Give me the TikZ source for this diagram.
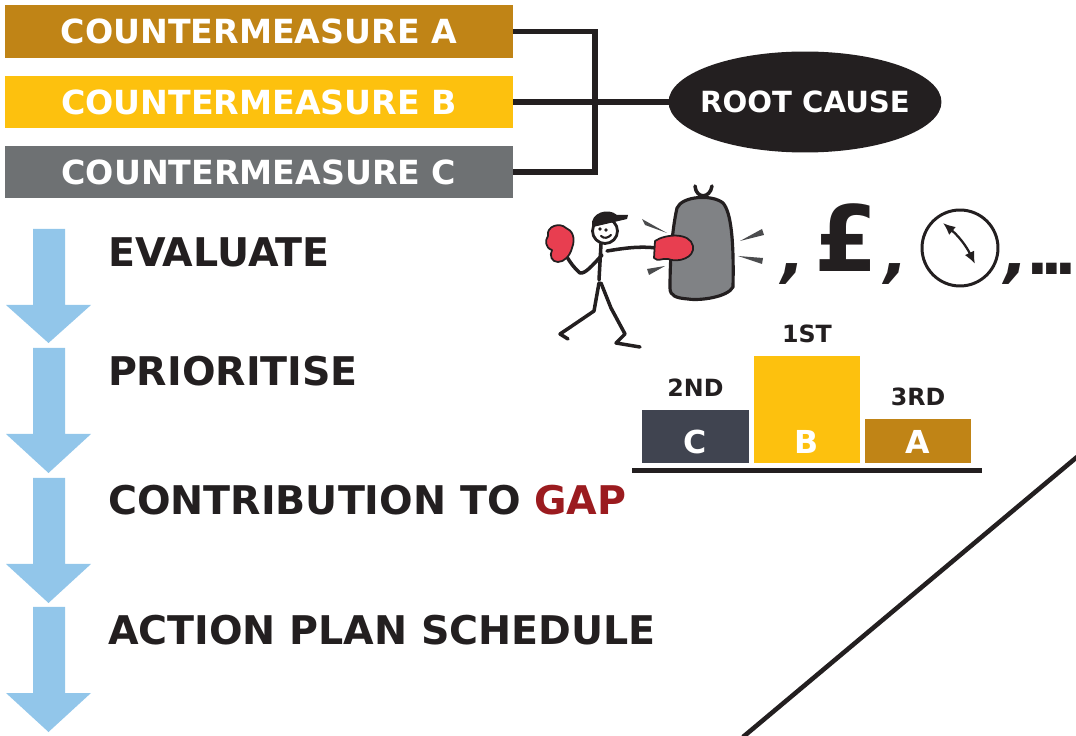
\documentclass[tikz,border=0pt]{standalone}
\usepackage{fontspec}
\setmainfont{DejaVu Sans}
\usetikzlibrary{shapes.geometric,arrows.meta}
\definecolor{cmA}{RGB}{192,132,22}
\definecolor{cmB}{RGB}{253,193,14}
\definecolor{cmC}{RGB}{110,113,115}
\definecolor{ink}{RGB}{35,31,32}
\definecolor{flow}{RGB}{146,198,234}
\definecolor{gapred}{RGB}{155,27,31}
\definecolor{podC}{RGB}{64,68,80}
\definecolor{glove}{RGB}{232,62,80}
\definecolor{bag}{RGB}{128,130,133}
\definecolor{impact}{RGB}{75,76,78}
\begin{document}
\begin{tikzpicture}[x=0.02cm,y=-0.02cm,
  every node/.style={inner sep=0pt,outer sep=0pt},
  cmbox/.style={anchor=west,minimum width=10.16cm,minimum height=1.05cm,text=white,
    font=\fontsize{18.9}{20}\selectfont\bfseries},
  wire/.style={draw=ink,line width=3.2pt},
  rootcause/.style={ellipse,fill=ink,minimum width=5.46cm,minimum height=2.02cm,text=white,
    font=\fontsize{16.6}{18}\selectfont\bfseries},
  flowarrow/.style={fill=flow},
  steplabel/.style={anchor=west,text=ink,font=\fontsize{22.5}{24}\selectfont\bfseries},
  podium/.style={anchor=south west,minimum width=2.12cm},
  rank/.style={text=ink,font=\fontsize{13.5}{15}\selectfont\bfseries},
  podletter/.style={text=white,font=\fontsize{18}{20}\selectfont\bfseries},
  symbol/.style={anchor=base west,text=ink,font=\fontsize{52}{52}\selectfont\bfseries},
  sep/.style={anchor=base west,text=ink,font=\fontsize{36}{36}\selectfont\bfseries\itshape},
  stick/.style={draw=ink,line width=2pt,line cap=round,line join=round},
  wedge/.style={fill=impact}]
\useasboundingbox (0,0) rectangle (1076,736);

% countermeasures and their root cause
\node[cmbox,fill=cmA] (cmA) at (5,31.5) {COUNTERMEASURE A};
\node[cmbox,fill=cmB] (cmB) at (5,102) {COUNTERMEASURE B};
\node[cmbox,fill=cmC] (cmC) at (5,172) {COUNTERMEASURE C};
\node[rootcause] (rc) at (805,102) {\makebox[0pt]{ROOT CAUSE}};
\coordinate (join) at (595,102);
\draw[wire] (cmA.east) -| (join) |- (cmC.east);
\draw[wire] (cmB.east) -- (rc.west);

% process steps
\foreach \t/\b/\p in {229/305/343,348/434/473,478/564/603,607/693/732}
  \fill[flowarrow] (33,\t) -- (65,\t) -- (65,\b) -- (91,\b) -- (48.5,\p) -- (6,\b) -- (33,\b) -- cycle;
\node[steplabel] (ev) at (108,252) {EVALUATE};
\node[steplabel] (pr) at (108,371) {PRIORITISE};
\node[steplabel] (co) at (108,500) {CONTRIBUTION TO \textcolor{gapred}{GAP}};
\node[steplabel] (ap) at (108,630) {ACTION PLAN SCHEDULE};

% punching bag
\draw[stick] (695,186) .. controls (696,199) and (710,199) .. (712,186);
\filldraw[stick,fill=bag,line width=1.8pt] (677,208) .. controls (682,196) and (712,194) .. (723,203)
  .. controls (731,212) and (734,240) .. (733,287) .. controls (728,297) and (700,301) .. (688,299)
  .. controls (676,298) and (670,296) .. (670,288) .. controls (670,260) and (672,230) .. (677,208) -- cycle;
% impact marks
\fill[wedge] (642,219) -- (645,225) -- (667,233) -- cycle;
\fill[wedge] (647,269) -- (649,275) -- (665,266) -- cycle;
\fill[wedge] (762,229) -- (764,235) -- (740,241) -- cycle;
\fill[wedge] (763,258) -- (762,264) -- (738,256) -- cycle;

% boxer
\draw[stick] (601,244) -- (599,280);
\draw[stick] (607,251) .. controls (625,248) and (640,246) .. (656,248);
\draw[stick] (602,255) .. controls (592,266) and (585,274) .. (580,273) .. controls (574,268) and (570,262) .. (567,257);
\draw[stick] (599,283) -- (594,311) -- (569,328) -- (560,334) -- (568,339);
\draw[stick] (601,283) -- (611,308) -- (625,334) -- (616,343) -- (640,347);
\filldraw[stick,fill=white,line width=1.6pt] (605,231) circle[radius=0.25cm];
\fill[ink] (592,226) .. controls (590,213) and (608,207) .. (617,215) -- (628,215) -- (627,219) -- (593,227) -- cycle;
\fill[ink] (600,229) circle[radius=1.1pt] (606,230) circle[radius=1.1pt];
\draw[stick,line width=1.2pt] (601,236) .. controls (604,239) and (608,238) .. (611,235);
\filldraw[stick,fill=glove,line width=1pt] (548,236) .. controls (546,226) and (560,222) .. (566,228)
  .. controls (572,230) and (576,238) .. (572,248) .. controls (570,256) and (564,262) .. (558,262)
  .. controls (552,262) and (549,256) .. (552,250) .. controls (545,248) and (545,240) .. (548,236) -- cycle;
\filldraw[stick,fill=glove,line width=1pt] (655,241) .. controls (665,234) and (690,232) .. (693,246)
  .. controls (695,258) and (678,263) .. (668,259) .. controls (662,258) and (658,262) .. (654,258) -- cycle;

% other costs: money, time, ...
\node[sep] (c1) at (781,276) {,};
\node[symbol] (gbp) at (814,272) {£};
\node[sep] (c2) at (884,276) {,};
\node[circle,draw=ink,line width=1.7pt,minimum size=1.52cm] (clk) at (960,248) {};
\draw[ink,line width=1.3pt,{Latex[length=7pt,width=6pt]}-{Latex[length=7pt,width=6pt]}]
  (943,223) to[bend left=12] (975,264);
\node[sep] (c3) at (1004,276) {,};
\node[anchor=base west,text=ink,font=\fontsize{34}{34}\selectfont\bfseries] (dots) at (1026,275)
  {.\kern-0.14em.\kern-0.14em.};

% podium
\node[podium,fill=podC,minimum width=2.14cm,minimum height=1.06cm] (pC) at (642,463) {};
\node[podium,fill=cmB,minimum height=2.14cm] (pB) at (754,463) {};
\node[podium,fill=cmA,minimum height=0.88cm] (pA) at (865,463) {};
\node[podletter] at ([yshift=0.42cm]pC.south) {C};
\node[podletter] at ([yshift=0.42cm]pB.south) {B};
\node[podletter] at ([yshift=0.42cm]pA.south) {A};
\node[rank] at ([yshift=0.44cm]pC.north) {2ND};
\node[rank] at ([yshift=0.44cm]pB.north) {1ST};
\node[rank] at ([yshift=0.44cm]pA.north) {3RD};
\draw[ink,line width=2.8pt] (632,470.5) -- (982,470.5);

% divider
\draw[ink,line width=2.6pt] (743,737) -- (1077,457);
\end{tikzpicture}
\end{document}
